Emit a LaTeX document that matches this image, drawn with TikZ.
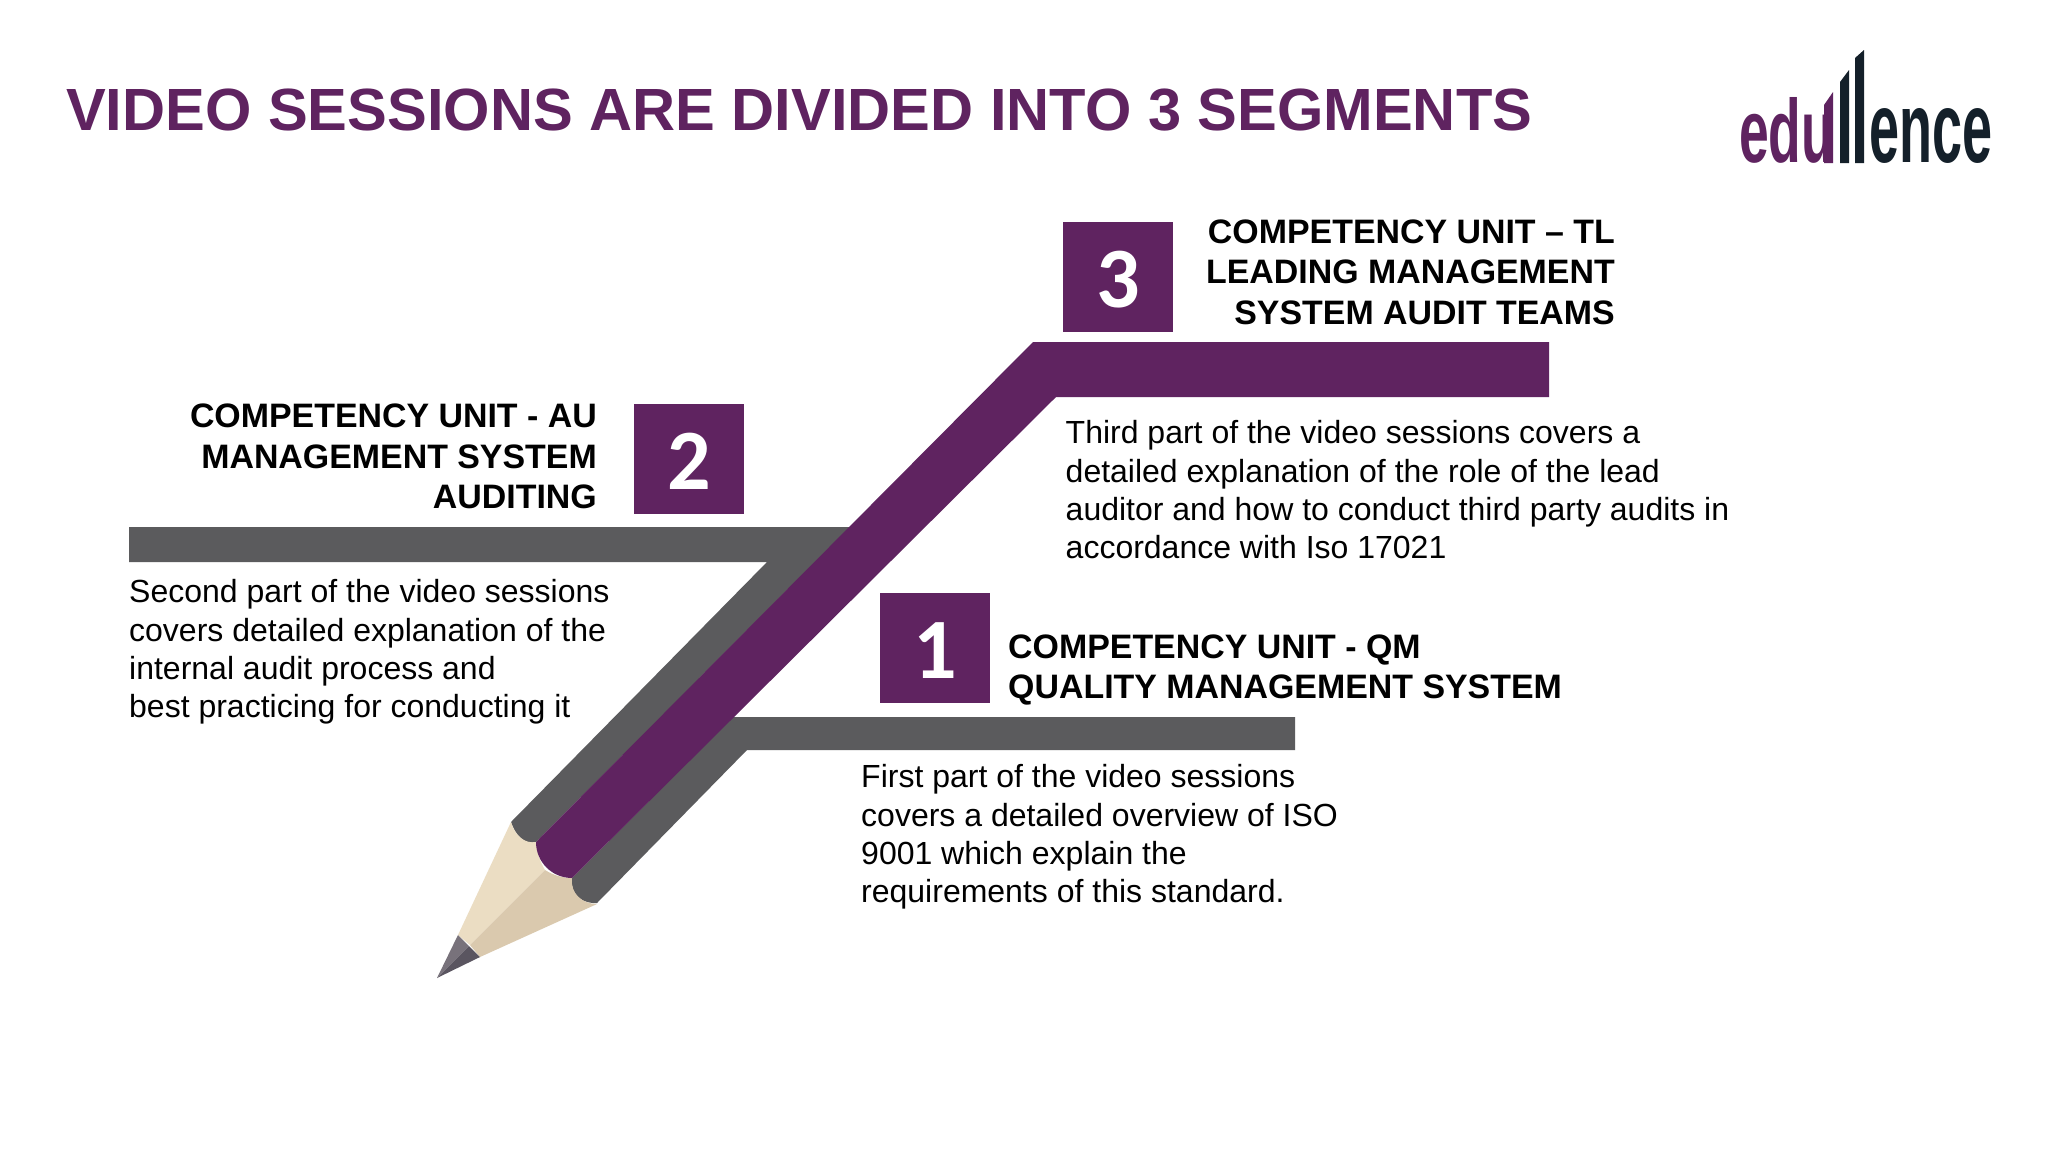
\documentclass[tikz,border=0pt]{standalone}
\usepackage{fontspec}
\setmainfont{Liberation Sans}
\newfontfamily\digitfont{Carlito}
\definecolor{bandpurple}{HTML}{5F2360}
\definecolor{bandgray}{HTML}{5B5B5D}
\definecolor{woodlight}{HTML}{EBDDC3}
\definecolor{wooddark}{HTML}{DAC9AE}
\definecolor{leadlight}{HTML}{78727B}
\definecolor{leaddark}{HTML}{5A5560}
\definecolor{logodark}{HTML}{14202A}
\tikzset{
  numbox/.style={fill=bandpurple,text=white,minimum size=110pt,inner sep=0pt,text height=61pt,text depth=0pt,font=\digitfont\bfseries\fontsize{86}{86}\selectfont},
  headtext/.style={inner sep=0pt,font=\bfseries\fontsize{33.9}{40.6}\selectfont},
  bodytext/.style={inner sep=0pt,align=left,font=\fontsize{32}{38.3}\selectfont},
}
\begin{document}
\begin{tikzpicture}[x=1pt,y=-1pt]
      \useasboundingbox[fill=white] (0,0) rectangle (2048,1152);
      \node[anchor=west,text=bandpurple,inner sep=0pt,font=\bfseries\fontsize{59.6}{60}\selectfont] (title) at (66,110) {VIDEO SESSIONS ARE DIVIDED INTO 3 SEGMENTS};
      % gray bands
      \fill[bandgray] (129,527) -- (850,527) -- (536,842) .. controls (530,844) and (518,842) .. (511,822) -- (767,562) -- (129,562) -- cycle;
      \fill[bandgray] (733,717) -- (1295,717) -- (1295,750) -- (747,750) -- (597,903) .. controls (585,904) and (570,897) .. (572,878) -- cycle;
      % wood and lead
      \fill[woodlight] (511,822) .. controls (515,836) and (525,844) .. (536,842) .. controls (537,852) and (540,862) .. (545,870) -- (470,945) -- (458,935) -- cycle;
      \fill[wooddark] (545,870) .. controls (553,875) and (562,878) .. (572,878) .. controls (570,893) and (582,904) .. (597,904) -- (480,957) -- (470,945) -- cycle;
      \fill[leadlight] (458,935) -- (469,946) -- (437,978) -- cycle;
      \fill[leaddark] (469,946) -- (480,957) -- (437,978) -- cycle;
      % purple band
      \fill[bandpurple] (536,842) -- (1033,342) -- (1549,342) -- (1549,397) -- (1056,397) -- (572,878) .. controls (552,878) and (536,862) .. (536,842) -- cycle;
      % number boxes
      \node[numbox] (box1) at (935,648) {1};
      \node[numbox] (box2) at (689,459) {2};
      \node[numbox] (box3) at (1118,277) {3};
      \node[headtext,align=left,anchor=west] (head1) at (1008,670) {COMPETENCY UNIT - QM\\QUALITY MANAGEMENT SYSTEM};
      \node[headtext,align=right,anchor=east] (head2) at (597,456.5) {COMPETENCY UNIT - AU\\MANAGEMENT SYSTEM\\AUDITING};
      \node[headtext,align=right,anchor=east] (head3) at (1615,272) {COMPETENCY UNIT – TL\\LEADING MANAGEMENT\\SYSTEM AUDIT TEAMS};
      \node[bodytext,anchor=west] (body1) at (861,837) {First part of the video sessions\\covers a detailed overview of ISO\\9001 which explain the\\requirements of this standard.};
      \node[bodytext,anchor=west] (body2) at (129,652) {Second part of the video sessions\\covers detailed explanation of the\\internal audit process and\\best practicing for conducting it};
      \node[bodytext,anchor=west] (body3) at (1065.5,490) {Third part of the video sessions covers a\\detailed explanation of the role of the lead\\auditor and how to conduct third party audits in\\accordance with Iso 17021};
      % logo
      \node[anchor=south west,inner sep=0pt,text=bandpurple] (logoedu) at (1739,163.5) {\resizebox{95pt}{65pt}{\bfseries edu}};
      \fill[bandpurple] (1824,163) -- (1824,105) -- (1833,92) -- (1833,163) -- cycle;
      \fill[logodark] (1840,163) -- (1840,82) -- (1849,70) -- (1849,163) -- cycle;
      \fill[logodark] (1855,163) -- (1855,58) -- (1864,50) -- (1864,163) -- cycle;
      \node[anchor=south west,inner sep=0pt,text=logodark] (logoence) at (1869,163.5) {\resizebox{123pt}{54pt}{\bfseries ence}};
    \end{tikzpicture}
\end{document}
